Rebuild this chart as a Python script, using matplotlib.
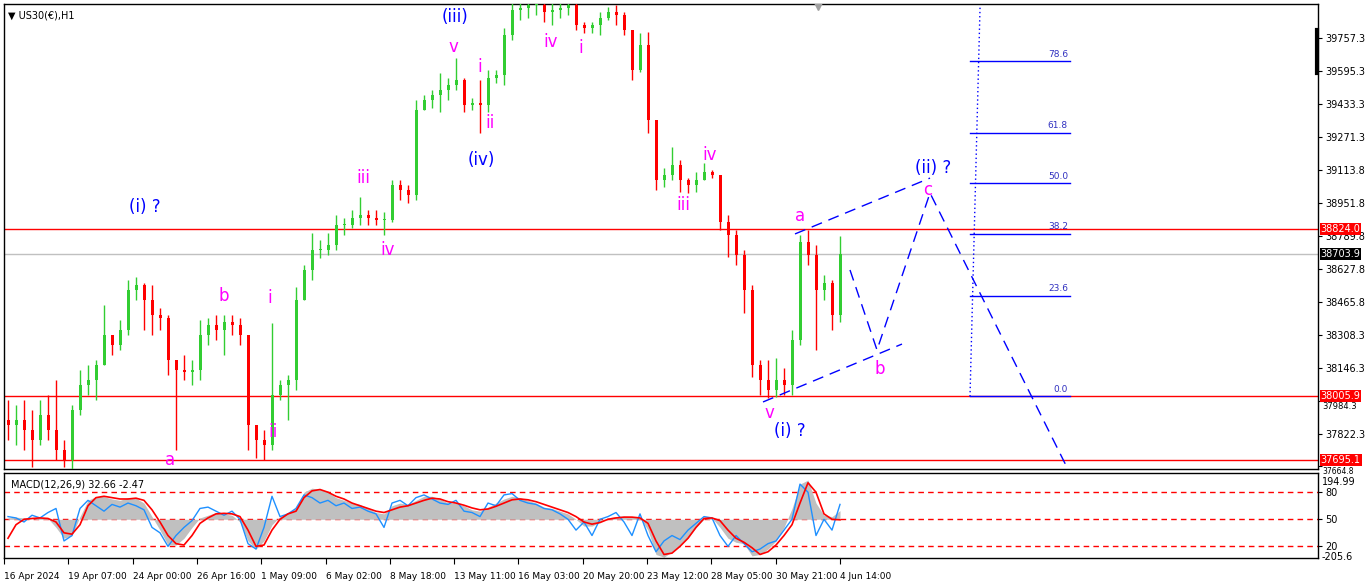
import numpy as np
import matplotlib
matplotlib.use("Agg")
import matplotlib.pyplot as plt
from matplotlib.transforms import blended_transform_factory

first_open = 37890
highs = [37989, 37964, 37989, 37940, 37989, 38013, 38086, 37793, 37964, 38135,
         38160, 38184, 38453, 38306, 38379, 38575, 38590, 38560, 38550, 38438,
         38404, 38184, 38208, 38184, 38379, 38389, 38404, 38404, 38404, 38389,
         38306, 37867, 37842, 38365, 38086, 38111, 38541, 38648, 38804, 38770,
         38804, 38893, 38878, 38917, 38980, 38917, 38917, 38907, 39064, 39064,
         39039, 39454, 39479, 39503, 39586, 39562, 39660, 39562, 39464, 39552,
         39601, 39601, 39806, 39928, 39990, 40040, 40090, 39960, 39933, 39960,
         39958, 39928, 39836, 39836, 39884, 39909, 39919, 39884, 39796, 39782,
         39787, 39357, 39122, 39225, 39161, 39073, 39103, 39147, 39112, 39088,
         38893, 38819, 38722, 38550, 38184, 38184, 38194, 38145, 38331, 38795,
         38819, 38746, 38599, 38575, 38790]
lows = [37793, 37769, 37744, 37661, 37769, 37793, 37695, 37661, 37647, 37916,
        38013, 37989, 38160, 38208, 38233, 38306, 38477, 38331, 38306, 38331,
        38111, 37744, 38086, 38062, 38086, 38257, 38282, 38208, 38306, 38257,
        37744, 37705, 37695, 37744, 37989, 37891, 38038, 38477, 38575, 38682,
        38697, 38722, 38795, 38829, 38844, 38844, 38844, 38795, 38858, 38966,
        38951, 38966, 39406, 39415, 39396, 39454, 39503, 39396, 39406, 39293,
        39396, 39537, 39528, 39748, 39845, 39855, 39870, 39836, 39821, 39855,
        39870, 39796, 39782, 39782, 39772, 39845, 39821, 39772, 39552, 39591,
        39293, 39015, 39029, 39064, 39005, 39000, 39005, 39064, 39073, 38819,
        38687, 38648, 38414, 38101, 38013, 37998, 38003, 38013, 38013, 38257,
        38648, 38233, 38477, 38331, 38370]
closes = [37867, 37891, 37842, 37793, 37916, 37842, 37744, 37695, 37940, 38062,
          38086, 38160, 38306, 38257, 38331, 38526, 38550, 38477, 38404, 38389,
          38184, 38135, 38125, 38135, 38306, 38355, 38331, 38370, 38355, 38306,
          37867, 37793, 37769, 38013, 38062, 38086, 38477, 38624, 38722, 38722,
          38746, 38844, 38844, 38878, 38893, 38878, 38868, 38868, 39039, 39015,
          38990, 39406, 39454, 39479, 39503, 39528, 39552, 39430, 39440, 39430,
          39562, 39577, 39772, 39894, 39904, 39919, 39919, 39884, 39894, 39904,
          39919, 39821, 39806, 39821, 39855, 39884, 39870, 39796, 39601, 39723,
          39357, 39064, 39088, 39137, 39064, 39039, 39064, 39103, 39088, 38858,
          38795, 38697, 38526, 38160, 38086, 38038, 38086, 38062, 38282, 38761,
          38697, 38526, 38560, 38404, 38702]

# MACD window, same grouping (100 = level line)
macd_hist = [5, 8, 5, 0, 5, 3, -30, -70, -60, 10,
             70, 84, 84, 75, 70, 80, 78, 60, 10, -40,
             -95, -95, -70, -30, 5, 15, 25, 20, 15, -10,
             -80, -110, -80, -20, 10, 25, 40, 100, 115, 110,
             100, 80, 70, 60, 55, 40, 25, 20, 50, 60,
             55, 70, 85, 85, 75, 60, 60, 50, 35, 30,
             45, 60, 75, 85, 80, 70, 60, 45, 40, 30,
             20, 0, -25, -25, -10, 5, 10, 12, 10, 5,
             -40, -130, -140, -120, -95, -70, -30, 0, 5, -30,
             -70, -85, -90, -135, -130, -110, -80, -30, 40, 130,
             145, 60, 15, 10, 32]
macd_signal = [-70, -20, 0, 3, 5, 3, -10, -50, -55, -20,
               50, 80, 85, 80, 75, 75, 78, 70, 35, -10,
               -60, -90, -95, -60, -15, 5, 20, 22, 20, 10,
               -40, -100, -95, -40, 0, 20, 30, 80, 105, 110,
               100, 85, 75, 60, 50, 40, 30, 25, 35, 45,
               50, 60, 70, 78, 75, 65, 60, 52, 42, 35,
               38, 48, 60, 72, 75, 72, 65, 55, 45, 35,
               25, 10, -10, -18, -12, 0, 5, 8, 8, 5,
               -15, -80, -130, -125, -100, -70, -30, 3, 5, -5,
               -40, -70, -85, -105, -130, -120, -95, -60, -20, 60,
               135, 100, 20, 0, -2]
macd_line = [10, 5, -10, 15, 5, 25, 40, -80, -60, 40,
             70, 50, 30, 55, 45, 60, 50, 35, -30, -50,
             -100, -60, -30, -5, 40, 45, 30, 15, 30, 0,
             -90, -110, -30, 85, 10, 20, 40, 90, 80, 60,
             70, 50, 60, 40, 45, 30, 20, -30, 60, 70,
             50, 80, 90, 75, 60, 55, 70, 30, 25, 10,
             60, 50, 90, 95, 70, 60, 55, 40, 35, 20,
             0, -40, -10, -60, 0, 10, 25, -10, -60, 20,
             -60, -120, -80, -60, -75, -40, -15, 10, 5, -60,
             -100, -60, -90, -120, -110, -90, -80, -40, 0, 130,
             100, -60, 0, -40, 55]

red_levels = [38824.0, 38005.9, 37695.1]
bid_price = 38703.9

fib_low = 38005.9
fib_high = 40090.0
fib_ratios = [0.0, 0.236, 0.382, 0.5, 0.618, 0.786]

price_ticks = [39757.3, 39595.3, 39433.3, 39271.3, 39113.8, 38951.8, 38789.8,
               38627.8, 38465.8, 38308.3, 38146.3, 37984.3, 37822.3, 37664.8]
# these two sit under the coloured price boxes, drawn a bit lower
hidden_ticks = [37984.3, 37664.8]

date_labels = ["16 Apr 2024", "19 Apr 07:00", "24 Apr 00:00", "26 Apr 16:00",
               "1 May 09:00", "6 May 02:00", "8 May 18:00", "13 May 11:00",
               "16 May 03:00", "20 May 20:00", "23 May 12:00", "28 May 05:00",
               "30 May 21:00", "4 Jun 14:00"]
date_bars = [0, 64, 129, 193, 257, 322, 386, 450, 514, 579, 643, 707, 772, 836]

# wave count labels (bar, price, text, colour)
MAG = "#FF00FF"
BLU = "#0000FF"
wave_labels = [
    (141, 38932, "(i) ?", BLU), (166, 37695, "a", MAG), (220, 38497, "b", MAG),
    (266, 38487, "i", MAG), (269, 37832, "ii", MAG), (359, 39073, "iii", MAG),
    (384, 38722, "iv", MAG), (449, 39713, "v", MAG), (451, 39860, "(iii)", BLU),
    (476, 39616, "i", MAG), (486, 39342, "ii", MAG), (477, 39161, "(iv)", BLU),
    (547, 39738, "iv", MAG), (577, 39708, "i", MAG), (679, 38941, "iii", MAG),
    (706, 39186, "iv", MAG), (796, 38888, "a", MAG), (765, 37925, "v", MAG),
    (786, 37837, "(i) ?", BLU), (876, 38140, "b", MAG), (924, 39015, "c", MAG),
    (929, 39122, "(ii) ?", BLU),
]

# projected path and triangle trend lines
upper_x, upper_y = [791, 926], [38800, 39073]
lower_x, lower_y = [759, 898], [37979, 38262]
path_x, path_y = [846, 873, 926, 1066], [38624, 38233, 39000, 37630]

fig = plt.figure(figsize=(13.66, 5.88), dpi=100)
fig.patch.set_facecolor("white")
W, H = 1366, 588
ax = fig.add_axes([4 / W, (H - 469) / H, 1314 / W, 465 / H])
ax2 = fig.add_axes([4 / W, (H - 558) / H, 1314 / W, 85 / H])

# candles
n = len(closes)
x = 4 + 8 * np.arange(n)
opens = np.array([first_open] + closes[:-1])
c = np.array(closes)
cols = np.where(c >= opens, "#32CD32", "#FF0000")
ax.vlines(x, lows, highs, colors=cols, lw=1, zorder=3)
body = np.maximum(np.abs(c - opens), 4)
ax.bar(x, body, bottom=np.minimum(c, opens), width=3, color=cols, zorder=3)

# horizontal lines
for lvl in red_levels:
    ax.axhline(lvl, color="red", lw=1, zorder=2)
ax.axhline(bid_price, color="#C0C0C0", lw=1, zorder=2)

# fibonacci
for r in fib_ratios:
    lv = fib_low + r * (fib_high - fib_low)
    ax.plot([966, 1066], [lv, lv], color="#0000FF", lw=1, zorder=2)
    ax.text(1064, lv + 12, f"{r * 100:.1f}", color="#3030C0", fontsize=6.5,
            ha="right", va="bottom")
ax.plot([966, 977], [fib_low, fib_high], color="#0000FF", lw=1,
        linestyle=(0, (1, 2)), zorder=2)

# dashed wave lines
dash = dict(color="#0000FF", lw=1, linestyle=(0, (8, 5)), zorder=4)
ax.plot(upper_x, upper_y, **dash)
ax.plot(lower_x, lower_y, **dash)
ax.plot(path_x, path_y, **dash)

for bx, py, txt, col in wave_labels:
    ax.text(bx, py, txt, color=col, fontsize=12, ha="center", va="center", zorder=5)

ax.plot([814], [39915], marker="v", color="#A0A0A0", ms=6, zorder=5)

ax.set_xlim(0, 1314)
ax.set_ylim(37651.5, 39923.5)
ax.set_xticks([])
ax.yaxis.tick_right()
ax.set_yticks(price_ticks)
ax.set_yticklabels(["" if v in hidden_ticks else f"{v:.1f}" for v in price_ticks])
ax.tick_params(axis="y", length=3, labelsize=7, pad=2, colors="black")
for s in ax.spines.values():
    s.set_color("black")
    s.set_linewidth(1)

ax.text(0.003, 0.985, "\u25bc US30(\u20ac),H1", transform=ax.transAxes,
        fontsize=7, va="top", ha="left")

# price labels on the scale
tr = blended_transform_factory(ax.transAxes, ax.transData)
ax.text(1.003, 37984.3 - 28, "37984.3", transform=tr, fontsize=6, va="center",
        ha="left", clip_on=False)
ax.text(1.003, 37664.8 - 26, "37664.8", transform=tr, fontsize=5.5, va="center",
        ha="left", clip_on=False)
for lvl in red_levels:
    ax.text(1.002, lvl, f"{lvl:.1f}", transform=tr, fontsize=7, color="white",
            va="center", ha="left", zorder=10, clip_on=False,
            bbox=dict(boxstyle="square,pad=0.1", fc="red", ec="none"))
ax.text(1.002, bid_price, f"{bid_price:.1f}", transform=tr, fontsize=7,
        color="white", va="center", ha="left", zorder=10, clip_on=False,
        bbox=dict(boxstyle="square,pad=0.1", fc="black", ec="none"))

# thick marker on the right border
fig.add_artist(plt.Line2D([1317 / W, 1317 / W], [(H - 30) / H, (H - 73) / H],
                          color="black", lw=3))

# MACD window
ax2.fill_between(x, 0, macd_hist, color="#C0C0C0", lw=0, zorder=2)
ax2.plot(x, macd_line, color="#1E90FF", lw=1, zorder=3)
ax2.plot(x, macd_signal, color="red", lw=1.2, zorder=4)
for lv in [100, 0, -100]:
    ax2.axhline(lv, color="red", lw=1, linestyle=(0, (4, 3)), zorder=1)
ax2.set_xlim(0, 1314)
ax2.set_ylim(-143, 171)
ax2.yaxis.tick_right()
ax2.set_yticks([100, 0, -100])
ax2.set_yticklabels(["80", "50", "20"])
ax2.tick_params(axis="y", length=3, labelsize=7, pad=2)
tr2 = blended_transform_factory(ax2.transAxes, ax2.transData)
ax2.text(1.003, 137, "194.99", transform=tr2, fontsize=7, va="center", ha="left")
ax2.text(1.003, -140, "-205.6", transform=tr2, fontsize=7, va="center", ha="left")
ax2.text(0.005, 0.92, "MACD(12,26,9) 32.66 -2.47", transform=ax2.transAxes,
         fontsize=7, va="top", ha="left")
ax2.set_xticks(date_bars)
ax2.set_xticklabels(date_labels, ha="left")
ax2.tick_params(axis="x", length=4, labelsize=6.5, pad=6)
for s in ax2.spines.values():
    s.set_color("black")
    s.set_linewidth(1)

fig.savefig("out.png", dpi=100, facecolor="white")
